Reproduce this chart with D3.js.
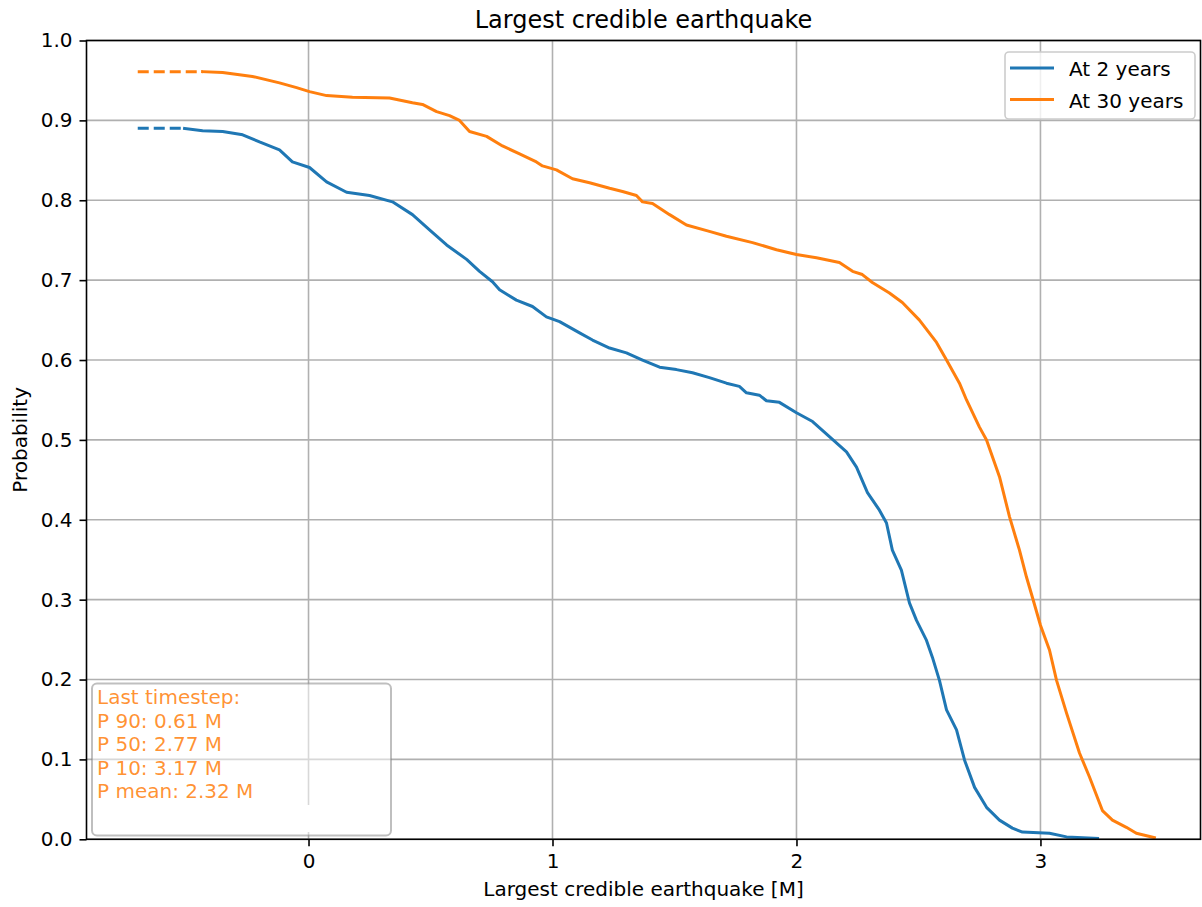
<!DOCTYPE html>
<html>
<head>
<meta charset="utf-8">
<script src="https://cdn.jsdelivr.net/npm/d3@7"></script>
<style>
  html, body { margin: 0; padding: 0; background: #fff; }
  svg { display: block; font-family: "DejaVu Sans", sans-serif; }
</style>
</head>
<body>
<svg id="chart" width="1202" height="907"></svg>
<script>
// ---- data ----
const title = "Largest credible earthquake";
const xLabel = "Largest credible earthquake [M]";
const yLabel = "Probability";
const seriesNames = ["At 2 years", "At 30 years"];
const seriesColors = ["#1f77b4", "#ff7f0e"];
const xTicks = [0, 1, 2, 3];
const yTicks = [0, 0.1, 0.2, 0.3, 0.4, 0.5, 0.6, 0.7, 0.8, 0.9, 1.0];
const dashStartM = -0.70;

// At 2 years: [M, probability]
const years2 = [
  [-0.508, 0.890], [-0.434, 0.887], [-0.352, 0.886], [-0.270, 0.882], [-0.201, 0.873],
  [-0.119, 0.863], [-0.066, 0.848], [0.004, 0.841], [0.074, 0.823], [0.156, 0.810],
  [0.250, 0.806], [0.344, 0.798], [0.426, 0.782], [0.496, 0.763], [0.566, 0.744],
  [0.648, 0.726], [0.701, 0.711], [0.754, 0.698], [0.783, 0.688], [0.852, 0.675],
  [0.918, 0.667], [0.975, 0.654], [1.029, 0.648], [1.111, 0.634], [1.164, 0.625],
  [1.234, 0.615], [1.303, 0.609], [1.369, 0.600], [1.439, 0.591], [1.508, 0.588],
  [1.574, 0.584], [1.643, 0.578], [1.713, 0.571], [1.766, 0.567], [1.795, 0.559],
  [1.848, 0.556], [1.877, 0.549], [1.930, 0.547], [2.000, 0.534], [2.066, 0.523],
  [2.135, 0.504], [2.205, 0.485], [2.246, 0.466], [2.291, 0.434], [2.340, 0.412],
  [2.369, 0.396], [2.393, 0.362], [2.430, 0.337], [2.463, 0.296], [2.492, 0.274],
  [2.533, 0.249], [2.557, 0.228], [2.586, 0.199], [2.615, 0.162], [2.656, 0.137],
  [2.689, 0.099], [2.730, 0.065], [2.779, 0.040], [2.832, 0.024], [2.885, 0.014],
  [2.926, 0.009], [3.037, 0.0075], [3.107, 0.003], [3.234, 0.001]
];

// At 30 years: [M, probability]
const years30 = [
  [-0.434, 0.961], [-0.352, 0.960], [-0.230, 0.955], [-0.119, 0.947], [-0.049, 0.941],
  [0.004, 0.936], [0.074, 0.931], [0.180, 0.929], [0.332, 0.928], [0.426, 0.922],
  [0.467, 0.920], [0.525, 0.911], [0.578, 0.906], [0.619, 0.900], [0.660, 0.886],
  [0.730, 0.880], [0.795, 0.868], [0.865, 0.858], [0.934, 0.848], [0.959, 0.843],
  [1.016, 0.838], [1.082, 0.827], [1.152, 0.822], [1.234, 0.815], [1.287, 0.811],
  [1.344, 0.806], [1.369, 0.798], [1.410, 0.796], [1.480, 0.782], [1.549, 0.769],
  [1.643, 0.761], [1.713, 0.755], [1.820, 0.747], [1.918, 0.738], [2.000, 0.732],
  [2.082, 0.728], [2.176, 0.722], [2.230, 0.711], [2.270, 0.707], [2.311, 0.697],
  [2.381, 0.684], [2.434, 0.672], [2.504, 0.650], [2.574, 0.622], [2.615, 0.600],
  [2.668, 0.571], [2.697, 0.550], [2.750, 0.516], [2.779, 0.500], [2.832, 0.454],
  [2.873, 0.404], [2.914, 0.362], [2.943, 0.328], [2.967, 0.303], [3.000, 0.268],
  [3.037, 0.237], [3.066, 0.199], [3.107, 0.158], [3.160, 0.108], [3.201, 0.078],
  [3.254, 0.036], [3.295, 0.024], [3.352, 0.015], [3.393, 0.0075], [3.467, 0.002]
];

const infoLines = ["Last timestep:", "P 90: 0.61 M", "P 50: 2.77 M", "P 10: 3.17 M", "P mean: 2.32 M"];

// ---- layout ----
const svg = d3.select("#chart");
const L = 86.5, R = 1200.5, T = 40.5, B = 839.3;
const x = d3.scaleLinear().domain([-0.91, 3.656]).range([L, R]);
const y = d3.scaleLinear().domain([0, 1]).range([B, T]);

// grid
const grid = svg.append("g");
grid.selectAll(".gx").data(xTicks).join("line")
  .attr("x1", d => x(d)).attr("x2", d => x(d)).attr("y1", T).attr("y2", B)
  .attr("stroke", "#b0b0b0").attr("stroke-width", 1.6);
grid.selectAll(".gy").data(yTicks).join("line")
  .attr("x1", L).attr("x2", R).attr("y1", d => y(d)).attr("y2", d => y(d))
  .attr("stroke", "#b0b0b0").attr("stroke-width", 1.6);

// axes
const xAxis = d3.axisBottom(x).tickValues(xTicks).tickFormat(d3.format("d")).tickSize(7).tickPadding(7);
const yAxis = d3.axisLeft(y).tickValues(yTicks).tickFormat(d3.format(".1f")).tickSize(7).tickPadding(7);
const gx = svg.append("g").attr("transform", `translate(0,${B})`).call(xAxis);
const gy = svg.append("g").attr("transform", `translate(${L},0)`).call(yAxis);
[gx, gy].forEach(g => {
  g.select(".domain").remove();
  g.selectAll(".tick line").attr("stroke", "#000").attr("stroke-width", 1.6);
  g.selectAll(".tick text").attr("font-size", 20).attr("fill", "#000")
    .attr("font-family", "DejaVu Sans, sans-serif");
});
gx.selectAll(".tick text").attr("dy", "0.76em");

// lines
const line = d3.line().x(d => x(d[0])).y(d => y(d[1]));
const plot = svg.append("g");
[years2, years30].forEach((s, i) => {
  plot.append("path").datum([[dashStartM, s[0][1]], s[0]])
    .attr("d", line).attr("fill", "none").attr("stroke", seriesColors[i])
    .attr("stroke-width", 3).attr("stroke-dasharray", "11,5");
  plot.append("path").datum(s)
    .attr("d", line).attr("fill", "none").attr("stroke", seriesColors[i])
    .attr("stroke-width", 3).attr("stroke-linejoin", "round").attr("stroke-linecap", "square");
});

// spines
svg.append("rect").attr("x", L).attr("y", T).attr("width", R - L).attr("height", B - T)
  .attr("fill", "none").attr("stroke", "#000").attr("stroke-width", 1.6);

// title and labels
svg.append("text").attr("x", (L + R) / 2).attr("y", 28).attr("text-anchor", "middle")
  .attr("font-size", 24).attr("fill", "#000").text(title);
svg.append("text").attr("x", (L + R) / 2).attr("y", 896).attr("text-anchor", "middle")
  .attr("font-size", 20).attr("fill", "#000").text(xLabel);
svg.append("text").attr("transform", `translate(27,${(T + B) / 2}) rotate(-90)`)
  .attr("text-anchor", "middle").attr("font-size", 20).attr("fill", "#000").text(yLabel);

// legend
const lg = svg.append("g");
lg.append("rect").attr("x", 1005).attr("y", 52).attr("width", 190).attr("height", 67)
  .attr("rx", 4).attr("fill", "#fff").attr("fill-opacity", 0.8)
  .attr("stroke", "#cccccc").attr("stroke-width", 1.6);
seriesNames.forEach((n, i) => {
  const yy = 68 + i * 31.5;
  lg.append("line").attr("x1", 1010).attr("x2", 1054).attr("y1", yy).attr("y2", yy)
    .attr("stroke", seriesColors[i]).attr("stroke-width", 3);
  lg.append("text").attr("x", 1069).attr("y", yy + 8).attr("font-size", 20)
    .attr("fill", "#000").text(n);
});

// info text box
const ib = svg.append("g");
ib.append("rect").attr("x", 92).attr("y", 683.5).attr("width", 299).attr("height", 152)
  .attr("rx", 5).attr("fill", "#fff").attr("fill-opacity", 0.5)
  .attr("stroke", "#808080").attr("stroke-opacity", 0.5).attr("stroke-width", 2);
ib.append("rect").attr("x", 94).attr("y", 805).attr("width", 295).attr("height", 27)
  .attr("fill", "#fff");
ib.selectAll("text").data(infoLines).join("text")
  .attr("x", 97).attr("y", (d, i) => 704 + i * 23.6)
  .attr("font-size", 20).attr("fill", seriesColors[1]).attr("fill-opacity", 0.85)
  .text(d => d);
</script>
</body>
</html>
